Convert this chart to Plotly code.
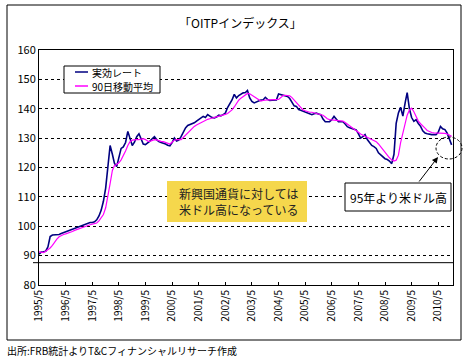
import plotly.graph_objects as go
import pandas as pd

# ---- data (monthly readings) ----
start_month = "1995-05"
rate = [
    # 1995/5 - 1995/12
    90.5, 91.2, 91.3, 91.5, 93.0, 96.5, 97.0, 97.0,
    # 1996
    97.0, 97.2, 97.5, 97.8, 98.3, 98.5, 98.7, 99.0, 99.5, 99.8, 100.0, 100.2,
    # 1997
    100.6, 101.0, 101.2, 101.3, 101.3, 101.5, 102.2, 103.5, 105.5, 108.5, 113.0, 120.0,
    # 1998
    127.5, 124.5, 121.5, 120.3, 123.5, 126.5, 127.0, 128.5, 132.3, 130.0, 127.5, 128.6,
    # 1999
    130.5, 131.5, 129.5, 128.0, 127.8, 128.3, 129.0, 129.8, 130.5, 129.5, 128.8, 128.5,
    # 2000
    128.3, 128.0, 127.6, 127.4, 128.5, 130.0, 129.0, 129.3, 130.5, 132.3, 133.5, 134.3,
    # 2001
    134.6, 135.0, 135.2, 135.8, 136.3, 136.8, 137.4, 137.0, 138.0, 137.5, 137.0, 136.9,
    # 2002
    137.2, 137.8, 137.6, 138.0, 138.5, 140.4, 141.5, 143.0, 144.9, 143.7, 144.5, 145.0,
    # 2003
    145.4, 145.5, 146.2, 143.7, 142.5, 142.0, 142.3, 142.6, 143.0, 143.0, 143.9, 143.2,
    # 2004
    142.8, 142.9, 143.0, 143.0, 145.0, 144.8, 144.8, 144.5, 144.2, 143.5, 142.0, 141.0,
    # 2005
    140.8, 139.7, 139.5, 139.2, 139.1, 138.8, 138.5, 138.0, 138.3, 138.5, 138.2, 138.0,
    # 2006
    136.5, 135.6, 135.6, 135.6, 136.3, 137.4, 136.5, 135.6, 135.6, 135.6, 134.8, 133.9,
    # 2007
    133.5, 133.2, 132.9, 132.8, 131.5, 130.0, 130.5, 131.2, 129.5, 128.3, 127.5, 127.1,
    # 2008
    126.5, 125.0, 124.3, 123.5, 123.0, 122.7, 122.2, 121.3, 124.5, 135.0, 138.6, 140.5,
    # 2009
    137.5, 142.0, 145.5, 140.0, 137.0, 135.7, 136.3, 135.0, 134.0, 132.5, 131.7, 131.5,
    # 2010/1 - 2010/11
    131.3, 131.2, 131.2, 131.2, 132.0, 134.0, 133.2, 132.9, 131.7, 130.0, 127.7,
]
ma90 = [
    # 1995/5 - 1995/12
    91.3, 91.2, 91.0, 91.5, 92.0, 92.6, 93.5, 94.7,
    # 1996
    95.6, 96.4, 96.9, 97.2, 97.4, 97.6, 97.8, 98.2, 98.6, 98.9, 99.1, 99.4,
    # 1997
    99.7, 99.9, 100.2, 100.5, 100.7, 100.9, 101.1, 101.8, 102.8, 104.0, 106.3, 110.0,
    # 1998
    114.5, 119.0, 120.6, 121.0, 121.6, 122.6, 124.0, 125.6, 127.5, 128.8, 129.3, 129.5,
    # 1999
    129.5, 129.5, 129.7, 129.8, 129.5, 129.0, 128.9, 129.2, 129.5, 129.4, 129.1, 128.9,
    # 2000
    128.8, 128.5, 128.2, 128.0, 128.6, 129.3, 129.5, 129.4, 129.5, 130.2, 131.0, 131.8,
    # 2001
    132.4, 133.2, 134.0, 134.5, 134.9, 135.3, 135.8, 136.2, 136.4, 136.6, 136.8, 136.9,
    # 2002
    137.1, 137.3, 137.5, 137.8, 138.1, 138.4, 139.0, 139.6, 140.6, 141.8, 142.9, 143.6,
    # 2003
    144.2, 144.7, 145.2, 145.1, 144.6, 144.0, 143.5, 142.9, 142.6, 142.8, 143.0, 143.0,
    # 2004
    143.0, 143.0, 143.0, 143.2, 143.2, 143.8, 144.5, 144.6, 144.6, 144.4, 143.8, 142.9,
    # 2005
    142.2, 141.2, 140.2, 139.6, 139.3, 139.0, 138.8, 138.8, 138.6, 138.4, 138.2, 138.1,
    # 2006
    137.8, 137.2, 136.6, 136.3, 136.2, 136.1, 136.1, 136.1, 136.0, 135.8, 135.3, 134.8,
    # 2007
    134.1, 133.6, 133.2, 132.7, 132.0, 131.4, 131.0, 130.6, 130.4, 130.0, 129.6, 129.1,
    # 2008
    128.8, 128.0, 127.1, 126.2, 125.1, 124.0, 123.3, 122.6, 122.2, 122.5, 124.2, 128.5,
    # 2009
    131.8, 134.6, 137.8, 139.6, 140.2, 139.0, 137.3, 135.8, 134.9, 134.3, 133.4, 132.6,
    # 2010/1 - 2010/11
    132.1, 131.9, 131.8, 131.8, 131.8, 131.8, 131.7, 131.6, 131.4, 130.9, 130.6,
]
dates = pd.date_range(start=start_month + "-01", periods=len(rate), freq="MS")

tick_years = list(range(1995, 2011))
tick_vals = [f"{y}-05-01" for y in tick_years]
tick_text = [f"{y}/5" for y in tick_years]

y_ticks = [80, 90, 100, 110, 120, 130, 140, 150, 160]
base_line = 87.6

title_text = "「OITPインデックス」"
legend_names = ["実効レート", "90日移動平均"]
note_yellow = "新興国通貨に対しては<br>米ドル高になっている"
note_box = "95年より米ドル高"
source_text = "出所:FRB統計よりT&Cフィナンシャルリサーチ作成"

NAVY = "#000080"
MAGENTA = "#FF00FF"
FONT = "Noto Sans CJK JP, Noto Sans, sans-serif"

# ---- layout helpers (pixel -> paper) ----
L, R, T, B = 39, 453, 50, 285
W, H = 467, 359


def px(x):
    return (x - L) / (R - L)


def py(y):
    return (B - y) / (B - T)


fig = go.Figure()
fig.add_trace(go.Scatter(x=dates, y=rate, mode="lines", name=legend_names[0],
                         line=dict(color=NAVY, width=1.6), showlegend=False))
fig.add_trace(go.Scatter(x=dates, y=ma90, mode="lines", name=legend_names[1],
                         line=dict(color=MAGENTA, width=1.2), showlegend=False))

shapes = []
annotations = []

# outer frame
shapes.append(dict(type="rect", xref="paper", yref="paper",
                   x0=px(7), x1=px(461), y0=py(340), y1=py(5),
                   line=dict(color="black", width=1), layer="below"))
# solid base line
shapes.append(dict(type="line", xref="paper", yref="y",
                   x0=px(33), x1=1, y0=base_line, y1=base_line,
                   line=dict(color="black", width=1)))
# legend box
shapes.append(dict(type="rect", xref="paper", yref="paper",
                   x0=px(64), x1=px(160), y0=py(93), y1=py(66),
                   line=dict(color="black", width=1), fillcolor="white"))
shapes.append(dict(type="line", xref="paper", yref="paper",
                   x0=px(75), x1=px(88), y0=py(72), y1=py(72),
                   line=dict(color=NAVY, width=1.5)))
shapes.append(dict(type="line", xref="paper", yref="paper",
                   x0=px(75), x1=px(88), y0=py(86), y1=py(86),
                   line=dict(color=MAGENTA, width=1.5)))
annotations.append(dict(xref="paper", yref="paper", x=px(90), y=py(72),
                        text=legend_names[0], showarrow=False, xanchor="left",
                        yanchor="middle", font=dict(size=10, color="black", family=FONT)))
annotations.append(dict(xref="paper", yref="paper", x=px(90), y=py(86),
                        text=legend_names[1], showarrow=False, xanchor="left",
                        yanchor="middle", font=dict(size=10, color="black", family=FONT)))
# yellow note
shapes.append(dict(type="rect", xref="paper", yref="paper",
                   x0=px(167), x1=px(307), y0=py(222), y1=py(181),
                   line=dict(width=0), fillcolor="#F5D74C"))
annotations.append(dict(xref="paper", yref="paper", x=px(177), y=py(201.5),
                        text=note_yellow, showarrow=False, xanchor="left",
                        yanchor="middle", align="left",
                        font=dict(size=12, color="#222222", family=FONT)))
# white boxed note
shapes.append(dict(type="rect", xref="paper", yref="paper",
                   x0=px(345), x1=px(451), y0=py(211), y1=py(183),
                   line=dict(color="black", width=1), fillcolor="white"))
annotations.append(dict(xref="paper", yref="paper", x=px(398), y=py(197),
                        text=note_box, showarrow=False, xanchor="center",
                        yanchor="middle", font=dict(size=12, color="black", family=FONT)))
# arrow
annotations.append(dict(xref="paper", yref="paper", x=px(438), y=py(157),
                        ax=-20, ay=26, text="", showarrow=True, arrowhead=2,
                        arrowsize=1.2, arrowwidth=1, arrowcolor="black"))
# dashed ellipse
shapes.append(dict(type="circle", xref="paper", yref="paper",
                   x0=px(436), x1=px(462), y0=py(159), y1=py(137),
                   line=dict(color="black", width=1, dash="3px,2px")))
# title & source
annotations.append(dict(xref="paper", yref="paper", x=px(240), y=py(23),
                        text=title_text, showarrow=False, xanchor="center",
                        yanchor="middle", font=dict(size=12, color="black", family=FONT)))
annotations.append(dict(xref="paper", yref="paper", x=px(5), y=py(350),
                        text=source_text, showarrow=False, xanchor="left",
                        yanchor="middle", font=dict(size=10, color="black", family=FONT)))

fig.update_layout(
    width=W, height=H,
    margin=dict(l=L, r=W - R, t=T, b=H - B, pad=0, autoexpand=False),
    paper_bgcolor="white", plot_bgcolor="white",
    showlegend=False,
    shapes=shapes, annotations=annotations,
    font=dict(family=FONT, size=11, color="black"),
)
fig.update_xaxes(
    type="date", range=["1995-05-01", "2010-11-20"], automargin=False,
    tickmode="array", tickvals=tick_vals, ticktext=tick_text,
    tickangle=-90, tickfont=dict(size=10, family=FONT),
    ticks="inside", ticklen=3, tickcolor="black",
    showgrid=False, zeroline=False,
    showline=True, linecolor="black", linewidth=1, mirror=True,
)
fig.update_yaxes(
    range=[80, 160], tickmode="array", tickvals=y_ticks, automargin=False,
    tickfont=dict(size=11, family=FONT),
    ticks="", showgrid=True, gridcolor="black", gridwidth=1, griddash="3px,3px",
    zeroline=False, showline=True, linecolor="black", linewidth=1, mirror=True,
)

fig.write_html(
    "out.html",
    config={"displayModeBar": False},
    post_script="document.body.style.margin='0';document.body.style.padding='0';",
)
